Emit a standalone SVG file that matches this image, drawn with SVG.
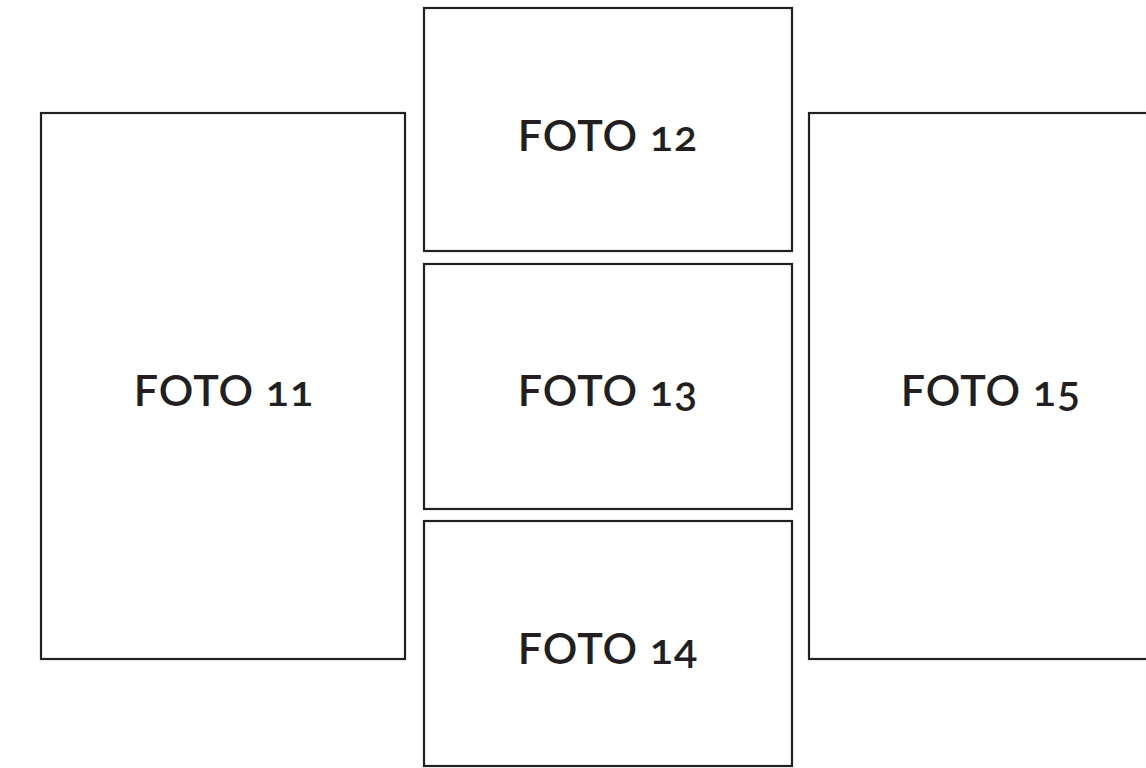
<svg xmlns="http://www.w3.org/2000/svg" width="1146" height="768" viewBox="0 0 1146 768">
<style>
.box{fill:#fff;stroke:#231f20;stroke-width:2.2}
.lbl{font-family:Lato,"Open Sans",sans-serif;font-size:43px;font-weight:600;letter-spacing:1px;fill:#231f20;text-anchor:middle;font-variant-numeric:oldstyle-nums;font-feature-settings:"onum" 1}
</style>
<rect width="1146" height="768" fill="#fff"/>
<g id="foto11"><rect class="box" x="41" y="113" width="364" height="546"/><text class="lbl" x="224" y="406">FOTO 11</text></g>
<g id="foto12"><rect class="box" x="424" y="8" width="368" height="243"/><text class="lbl" x="608" y="151">FOTO 12</text></g>
<g id="foto13"><rect class="box" x="424" y="264" width="368" height="245"/><text class="lbl" x="608" y="406">FOTO 13</text></g>
<g id="foto14"><rect class="box" x="424" y="521" width="368" height="245"/><text class="lbl" x="608" y="664">FOTO 14</text></g>
<g id="foto15"><rect class="box" x="809" y="113" width="360" height="546"/><text class="lbl" x="991" y="406">FOTO 15</text></g>
<g id="connectors"/>
</svg>
